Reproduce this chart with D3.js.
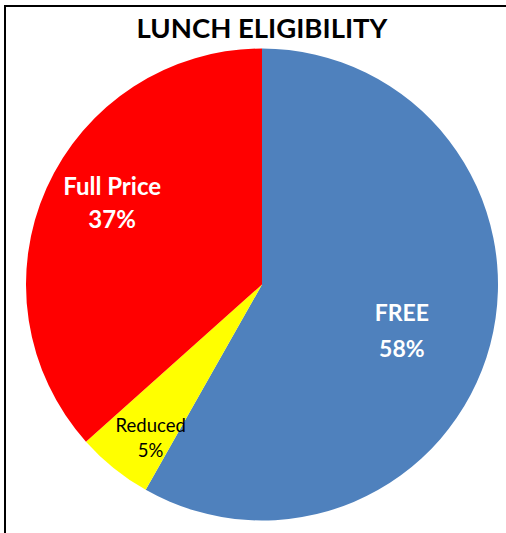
<!DOCTYPE html>
<html>
<head>
<meta charset="utf-8">
<script src="https://cdn.jsdelivr.net/npm/d3@7"></script>
<style>
  body { margin: 0; background: #fff; }
  svg { display: block; }
</style>
</head>
<body>
<div id="chart"></div>
<script>
// chart data
const categories = ["FREE", "Reduced", "Full Price"];
const shares = [58.2, 5.2, 36.6];
const colors = ["#4f81bd", "#ffff00", "#ff0000"];

const width = 506;
const height = 533;

const svg = d3
  .select("#chart")
  .append("svg")
  .attr("width", width)
  .attr("height", height);

// outer frame (only top and left show in the crop)
svg
  .append("rect")
  .attr("x", 5)
  .attr("y", 6)
  .attr("width", width + 20)
  .attr("height", height + 20)
  .attr("fill", "none")
  .attr("stroke", "#000")
  .attr("stroke-width", 2);

// title
svg
  .append("text")
  .attr("x", 262)
  .attr("y", 38)
  .attr("text-anchor", "middle")
  .attr("font-family", "Lato")
  .attr("font-weight", "bold")
  .attr("font-size", "27.5px")
  .attr("fill", "#000")
  .text("LUNCH ELIGIBILITY");

const cx = 262, cy = 284.5, radius = 236;

const pie = d3.pie().sort(null).value((d) => d.value);
const arc = d3.arc().innerRadius(0).outerRadius(radius);

const data = categories.map((c, i) => ({ name: c, value: shares[i], color: colors[i] }));
const arcs = pie(data);

const g = svg.append("g").attr("transform", `translate(${cx},${cy})`);

g.selectAll("path")
  .data(arcs)
  .join("path")
  .attr("d", arc)
  .attr("fill", (d) => d.data.color);

// label placement tweaks (radius + angle shift in degrees), like excel "best fit"
const labelStyle = {
  "FREE": { r: 148, shift: 4.3, size: 23, weight: "bold", fill: "#fff", gap: 36 },
  "Reduced": { r: 190, shift: -3.0, size: 18.5, weight: "normal", fill: "#000", gap: 25 },
  "Full Price": { r: 169.5, shift: 3.7, size: 24, weight: "bold", fill: "#fff", gap: 33 },
};

const labels = g
  .selectAll("g.lbl")
  .data(arcs)
  .join("g")
  .attr("class", "lbl")
  .attr("transform", (d) => {
    const s = labelStyle[d.data.name];
    const a = (d.startAngle + d.endAngle) / 2 + (s.shift * Math.PI) / 180;
    return `translate(${Math.sin(a) * s.r},${-Math.cos(a) * s.r})`;
  })
  .attr("font-family", "Lato")
  .attr("text-anchor", "middle")
  .attr("fill", (d) => labelStyle[d.data.name].fill)
  .attr("font-weight", (d) => labelStyle[d.data.name].weight)
  .attr("font-size", (d) => labelStyle[d.data.name].size + "px");

labels
  .append("text")
  .attr("y", (d) => -labelStyle[d.data.name].gap / 2 + 6)
  .text((d) => d.data.name);

labels
  .append("text")
  .attr("y", (d) => labelStyle[d.data.name].gap / 2 + 6)
  .text((d) => Math.round(d.data.value) + "%");
</script>
</body>
</html>
